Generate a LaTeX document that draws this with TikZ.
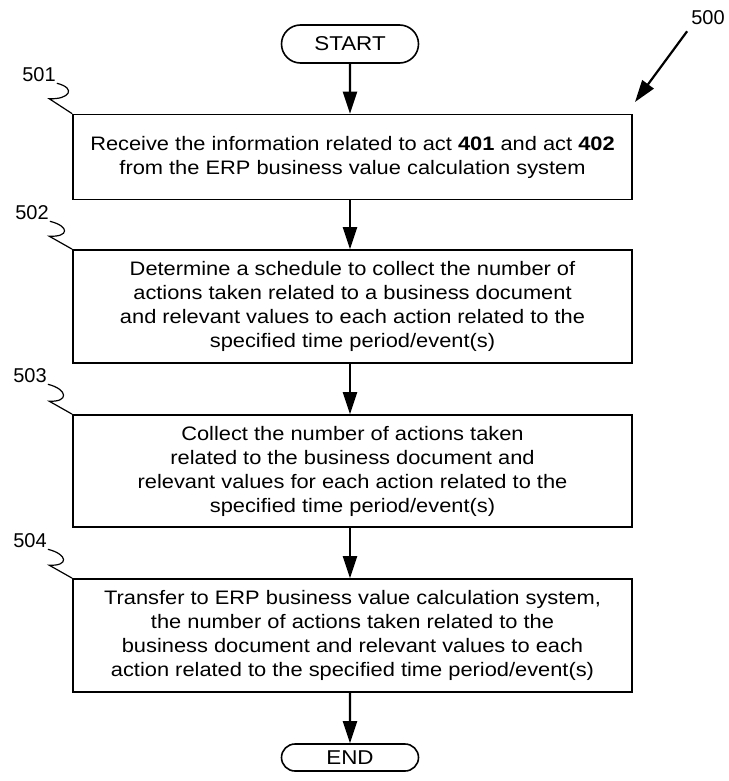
\documentclass[tikz,border=0pt]{standalone}
\usepackage{fontspec}
\setmainfont{Liberation Sans}
\newfontfamily\boxfont{Liberation Sans}[FakeStretch=1.12]
\usetikzlibrary{arrows.meta,shapes.misc}

\begin{document}
\begin{tikzpicture}[x=1pt,y=-1pt,
    actbox/.style={draw,line width=1.6pt,minimum width=559pt,inner sep=0pt,align=center,font=\boxfont\fontsize{19.5}{24}\selectfont},
    term/.style={draw,line width=1.6pt,rounded rectangle,minimum width=137pt,minimum height=38pt,inner sep=0pt,font=\boxfont\fontsize{20}{24}\selectfont},
    flow/.style={line width=2.2pt,-{Triangle[length=22pt,width=14pt]}},
    lbl/.style={inner sep=1pt,font=\fontsize{20}{22}\selectfont},
    lead/.style={line width=1.2pt}]
  \useasboundingbox (0,0) rectangle (728,781); % page size
  \node[term] (start) at (350,44) {START}; % start
  \node[actbox,minimum height=85pt] (b501) at (352.5,157) {Receive the information related to act \textbf{401} and act \textbf{402}\\from the ERP business value calculation system}; % act 501
  \node[actbox,minimum height=113pt] (b502) at (352.5,306.5) {Determine a schedule to collect the number of\\actions taken related to a business document\\and relevant values to each action related to the\\specified time period/event(s)}; % act 502
  \node[actbox,minimum height=112pt] (b503) at (352.5,471) {Collect the number of actions taken\\related to the business document and\\relevant values for each action related to the\\specified time period/event(s)}; % act 503
  \node[actbox,minimum height=113pt] (b504) at (352.5,635.5) {Transfer to ERP business value calculation system,\\the number of actions taken related to the\\business document and relevant values to each\\action related to the specified time period/event(s)}; % act 504
  \node[term,minimum height=27pt] (end) at (350,757.5) {END}; % end
  % flow arrows
  \draw[flow] (start) -- (start |- b501.north);
  \draw[flow] (b501.south -| start) -- (b502.north -| start);
  \draw[flow] (b502.south -| start) -- (b503.north -| start);
  \draw[flow] (b503.south -| start) -- (b504.north -| start);
  \draw[flow] (b504.south -| start) -- (end);
  % reference numbers
  \node[lbl] (l500) at (708,18) {500};
  \coordinate (p500) at (635,102);
  \draw[flow] (l500.south west) ++(-3,5) -- (p500);
  \node[lbl] (l501) at (39,75) {501};
  \draw[lead] (l501.south east) .. controls +(20,5) and +(20,1) .. ([shift={(-23,-15)}]b501.north west) -- (b501.north west);
  \node[lbl] (l502) at (32,213) {502};
  \draw[lead] (l502.south east) .. controls +(20,5) and +(20,1) .. ([shift={(-23,-13)}]b502.north west) -- (b502.north west);
  \node[lbl] (l503) at (30,376) {503};
  \draw[lead] (l503.south east) .. controls +(20,5) and +(20,1) .. ([shift={(-23,-13)}]b503.north west) -- (b503.north west);
  \node[lbl] (l504) at (30,541) {504};
  \draw[lead] (l504.south east) .. controls +(20,5) and +(20,1) .. ([shift={(-23,-13)}]b504.north west) -- (b504.north west);
\end{tikzpicture}
\end{document}
